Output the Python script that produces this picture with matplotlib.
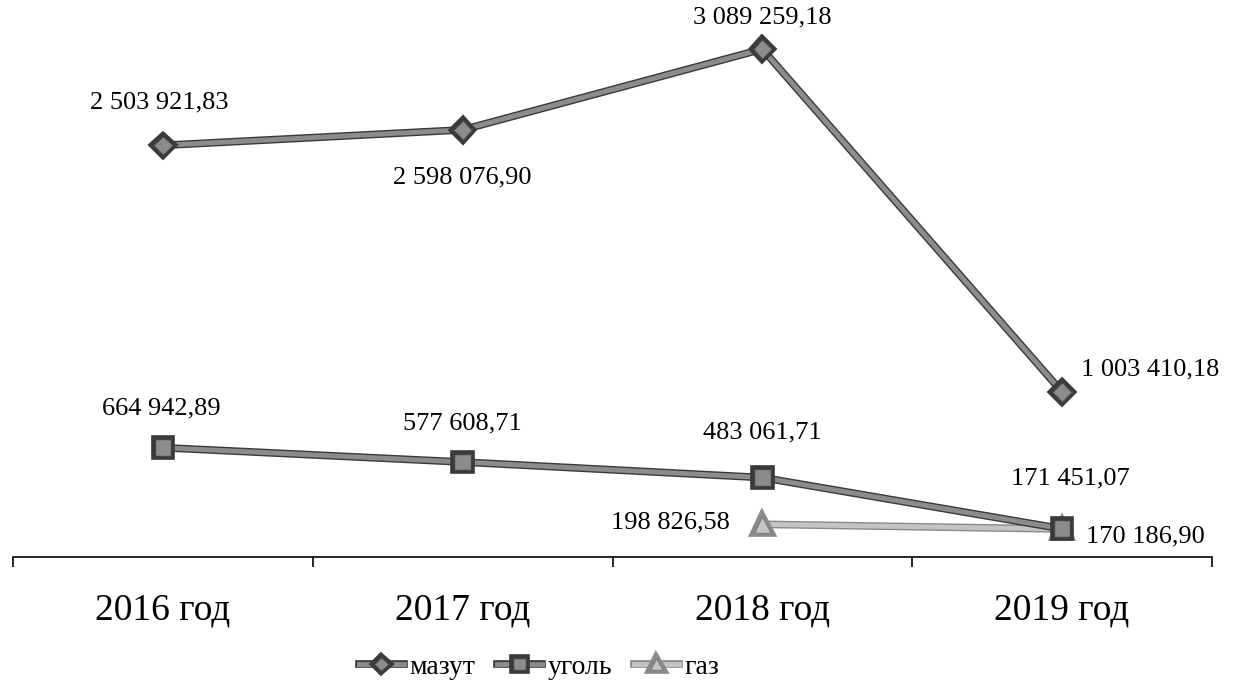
import matplotlib.pyplot as plt
import matplotlib.patheffects as pe

years = ["2016 год", "2017 год", "2018 год", "2019 год"]
mazut = [2503921.83, 2598076.90, 3089259.18, 1003410.18]
coal = [664942.89, 577608.71, 483061.71, 171451.07]
gas_x = [2, 3]
gas = [198826.58, 170186.90]

# label offsets in pixels (dx, dy) for each point
mazut_off = [(-4, 43), (0, -48), (0, 32), (88, 23)]
coal_off = [(-2, 39), (0, 39), (0, 45), (8, 50)]
gas_off = [(-92, 2), (83, -7)]

plt.rcParams["font.family"] = ["Liberation Serif", "DejaVu Serif"]

fig = plt.figure(figsize=(12.44, 6.91), dpi=100)
ax = fig.add_axes([13 / 1244, 134 / 691, 1199 / 1244, 557 / 691])


def outline(dark):
    return [pe.Stroke(linewidth=5.5, foreground=dark), pe.Normal()]


ax.plot(range(4), mazut, color="#8c8c8c", lw=3.5, marker="D", ms=10,
        mfc="#8c8c8c", mec="#444444", mew=1.0, label="мазут",
        path_effects=outline("#3a3a3a"))
ax.plot(range(4), coal, color="#8c8c8c", lw=3.5, marker="s", ms=12,
        mfc="#8c8c8c", mec="#444444", mew=1.0, label="уголь",
        path_effects=outline("#3a3a3a"), zorder=3)
ax.plot(gas_x, gas, color="#c4c4c4", lw=3.5, marker="^", ms=12,
        mfc="#c4c4c4", mec="#808080", mew=1.0, label="газ",
        path_effects=outline("#8a8a8a"), zorder=2)


def fmt(v):
    s = f"{v:,.2f}"
    return s.replace(",", " ").replace(".", ",")


for xs, ys, offs in [(range(4), mazut, mazut_off), (range(4), coal, coal_off),
                     (gas_x, gas, gas_off)]:
    for x, y, (dx, dy) in zip(xs, ys, offs):
        ax.annotate(fmt(y), (x, y), xytext=(dx, dy), textcoords="offset pixels",
                    ha="center", va="center", fontsize=19)

ax.set_xlim(-0.5, 3.5)
ax.set_ylim(0, 3388000)
ax.set_xticks(range(4))
ax.set_xticklabels(years, fontsize=27)
ax.set_xticks([-0.5, 0.5, 1.5, 2.5, 3.5], minor=True)
ax.tick_params(axis="x", which="major", length=0, pad=26)
ax.tick_params(axis="x", which="minor", length=7, width=1.2, direction="out")
ax.set_yticks([])
for side in ["top", "right", "left"]:
    ax.spines[side].set_visible(False)
ax.spines["bottom"].set_linewidth(1.2)

fig.legend(loc="center", bbox_to_anchor=(539 / 1244, 1 - 667 / 691), ncol=3,
           frameon=False, fontsize=20, handlelength=1.6, handletextpad=0.2,
           columnspacing=0.8, markerscale=0.75)

fig.savefig("out.png", dpi=100)
